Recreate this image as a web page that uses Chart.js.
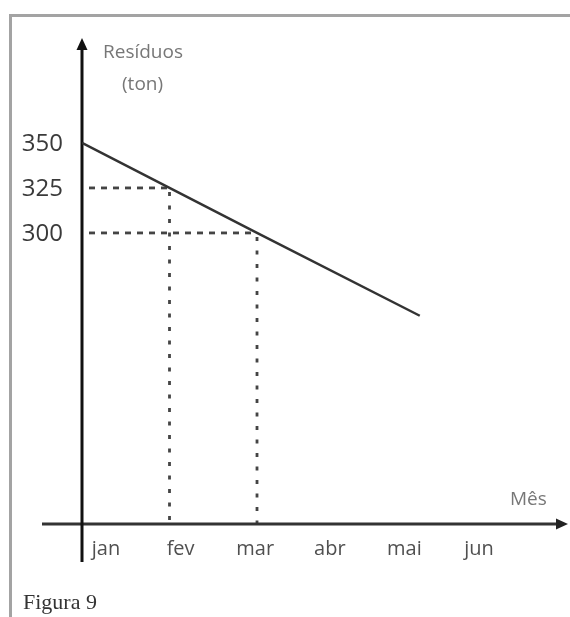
<!DOCTYPE html>
<html>
<head>
<meta charset="utf-8">
<script src="https://cdn.jsdelivr.net/npm/chart.js@4"></script>
<style>
  body { margin: 0; background: #fff; }
  #wrap { position: relative; width: 570px; height: 617px; overflow: hidden; }
  #moldura { position: absolute; left: 9px; top: 14px; width: 600px; height: 640px;
    border-top: 3px solid #a3a3a3; border-left: 3px solid #a3a3a3; box-sizing: border-box; }
  canvas { position: absolute; left: 0; top: 0; }
</style>
</head>
<body>
<div id="wrap">
  <div id="moldura"></div>
  <canvas id="grafico" width="570" height="617"></canvas>
</div>
<script>
const meses = ['jan', 'fev', 'mar', 'abr', 'mai', 'jun'];
// posicao de cada ponto da reta, em meses a partir de jan
const mesPonto = [0, 1, 2, 3.86];
const residuos = [350, 325, 300, 254];
const yTicks = [350, 325, 300];
// pontos com linhas tracejadas ate os eixos
const marcados = [1, 2];


const eixos = {
  id: 'eixos',
  beforeDatasetsDraw(chart) {
    const ctx = chart.ctx;
    const a = chart.chartArea;
    const xs = chart.scales.x;
    const ys = chart.scales.y;

    ctx.save();
    // tracejados
    ctx.strokeStyle = '#444';
    ctx.lineWidth = 2.8;
    marcados.forEach(i => {
      const px = xs.getPixelForValue(mesPonto[i]);
      const py = ys.getPixelForValue(residuos[i]);
      ctx.setLineDash([6, 6]);
      ctx.beginPath();
      ctx.moveTo(a.left + 7, py);
      ctx.lineTo(px, py);
      ctx.stroke();
      ctx.setLineDash([4, 9.5]);
      ctx.beginPath();
      ctx.moveTo(px, py + 4);
      ctx.lineTo(px, a.bottom);
      ctx.stroke();
    });
    ctx.setLineDash([]);

    // eixo x
    ctx.strokeStyle = '#333';
    ctx.fillStyle = '#222';
    ctx.lineWidth = 3;
    ctx.beginPath();
    ctx.moveTo(a.left - 40, a.bottom);
    ctx.lineTo(a.right - 8, a.bottom);
    ctx.stroke();
    ctx.beginPath();
    ctx.moveTo(a.right, a.bottom);
    ctx.lineTo(a.right - 12, a.bottom - 5.5);
    ctx.lineTo(a.right - 12, a.bottom + 5.5);
    ctx.closePath();
    ctx.fill();

    // eixo y
    ctx.strokeStyle = '#111';
    ctx.fillStyle = '#111';
    ctx.beginPath();
    ctx.moveTo(a.left, a.bottom + 38);
    ctx.lineTo(a.left, a.top + 8);
    ctx.stroke();
    ctx.beginPath();
    ctx.moveTo(a.left, a.top);
    ctx.lineTo(a.left - 5.5, a.top + 12);
    ctx.lineTo(a.left + 5.5, a.top + 12);
    ctx.closePath();
    ctx.fill();
    ctx.restore();
  },
  afterDraw(chart) {
    const ctx = chart.ctx;
    const a = chart.chartArea;
    const ys = chart.scales.y;

    ctx.save();

    // ticks do eixo y
    ctx.fillStyle = '#3a3a3a';
    ctx.font = '24px "Open Sans"';
    ctx.textAlign = 'right';
    ctx.textBaseline = 'middle';
    yTicks.forEach(v => {
      ctx.fillText(String(v), a.left - 19, ys.getPixelForValue(v) + 1);
    });

    // meses
    ctx.textBaseline = 'alphabetic';
    ctx.textAlign = 'center';
    ctx.fillStyle = '#505050';
    ctx.font = '20px "Open Sans"';
    meses.forEach((m, i) => {
      ctx.fillText(m, a.left + 24 + i * 74.6, a.bottom + 31);
    });

    // titulos dos eixos
    ctx.fillStyle = '#777';
    ctx.font = '19px "Open Sans"';
    ctx.textAlign = 'left';
    ctx.fillText('Resíduos', a.left + 21, a.top + 20);
    ctx.fillText('(ton)', a.left + 40, a.top + 52);
    ctx.fillText('Mês', a.right - 58, a.bottom - 19);

    ctx.fillStyle = '#333';
    ctx.font = '22px "Liberation Serif"';
    ctx.fillText('Figura 9', 23, 609);
    ctx.restore();
  }
};


const ctx = document.getElementById('grafico').getContext('2d');
new Chart(ctx, {
  type: 'line',
  data: {
    datasets: [{
      data: mesPonto.map((m, i) => ({ x: m, y: residuos[i] })),
      borderColor: '#333',
      borderWidth: 2.5,
      pointRadius: 0,
      tension: 0,
      fill: false
    }]
  },
  options: {
    responsive: false,
    animation: false,
    layout: {
      padding: { left: 82, right: 2, top: 38, bottom: 93 }
    },
    scales: {
      x: { type: 'linear', min: 0, max: 5.554, display: false },
      y: { type: 'linear', min: 138.3, max: 408.3, display: false }
    },
    plugins: {
      legend: { display: false },
      tooltip: { enabled: false }
    }
  },
  plugins: [eixos]
});
</script>
</body>
</html>
